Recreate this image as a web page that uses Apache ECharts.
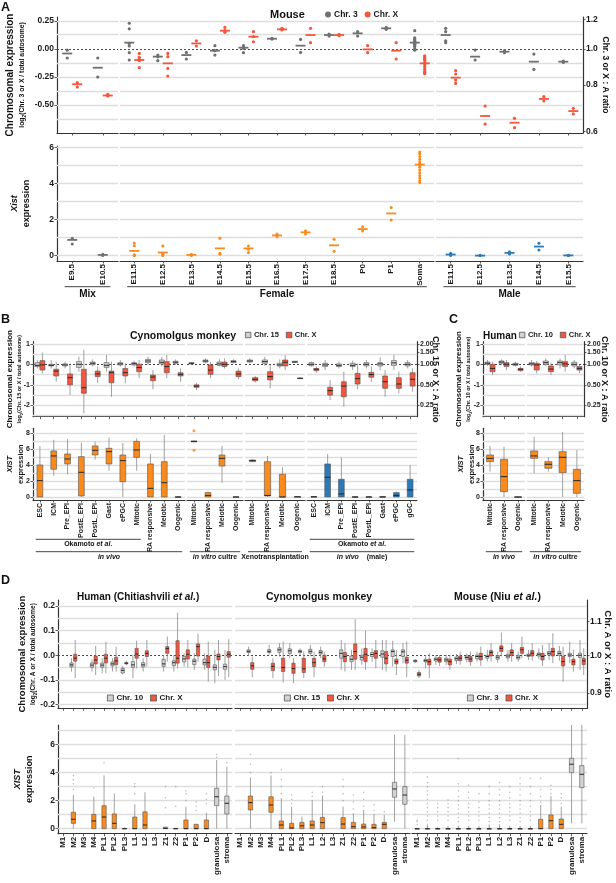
<!DOCTYPE html>
<html>
<head>
<meta charset="utf-8">
<script src="https://cdn.jsdelivr.net/npm/echarts@6.0.0/dist/echarts.min.js"></script>
<style>
  html, body { margin: 0; padding: 0; background: #fff; }
  #chart { width: 616px; height: 883px; }
</style>
</head>
<body>
<div id="chart"></div>
<script>
// ---- A: mouse, log2(Chr / total autosome) dots + Xist dots ----
const aMixCats = ['E9.5', 'E10.5'];
const aFemCats = ['E11.5', 'E12.5', 'E13.5', 'E14.5', 'E15.5', 'E16.5', 'E17.5', 'E18.5', 'P0', 'P1', 'Soma'];
const aMaleCats = ['E11.5', 'E12.5', 'E13.5', 'E14.5', 'E15.5'];

const aMixChr3 = [[-0.01, -0.08], [-0.08, -0.25]];
const aMixChr3Med = [-0.04, -0.167];
const aMixChrX = [[-0.3, -0.34], [-0.405, -0.42]];
const aMixChrXMed = [-0.315, -0.415];

const aFemChr3 = [
  [0.23, 0.18, 0.05, 0.027, -0.033, -0.098], [-0.054, -0.07, -0.104], [-0.03, -0.089],
  [0.03, -0.015, -0.054], [0.03, 0.006, -0.033], [0.095, 0.089], [0.086, -0.03],
  [0.134, 0.116], [0.155, 0.116], [0.193, 0.176],
  [0.164, 0.1, 0.09, 0.08, 0.07, 0.06, 0.05, 0.04, 0.03, 0.02, 0.0, -0.01]
];
const aFemChr3Med = [0.057, -0.068, -0.054, -0.015, 0.012, 0.092, 0.03, 0.125, 0.14, 0.185, 0.057];
const aFemChrX = [
  [-0.039, -0.074, -0.092, -0.104, -0.167], [-0.039, -0.068, -0.173, -0.241], [0.074, 0.027],
  [0.193, 0.164, 0.149], [0.155, 0.11, 0.065], [0.185, 0.176, 0.17], [0.185, 0.057],
  [0.131, 0.119], [0.03, -0.033], [0.057, -0.089],
  [-0.06, -0.07, -0.08, -0.09, -0.1, -0.12, -0.14, -0.16, -0.18, -0.2, -0.21, -0.22]
];
const aFemChrXMed = [-0.098, -0.128, 0.05, 0.164, 0.11, 0.176, 0.125, 0.125, -0.003, -0.015, -0.128];

const aMaleChr3 = [[0.185, 0.155, 0.074, 0.057], [-0.009, -0.098], [-0.015, -0.033], [-0.045, -0.182], [-0.107, -0.12]];
const aMaleChr3Med = [0.125, -0.068, -0.024, -0.113, -0.113];
const aMaleChrX = [[-0.193, -0.223, -0.277, -0.307], [-0.509, -0.67], [-0.619, -0.702], [-0.426, -0.464], [-0.53, -0.58]];
const aMaleChrXMed = [-0.256, -0.598, -0.658, -0.446, -0.554];

const aMixXist = [[0.96, 0.64], [0.07, 0.0]];
const aMixXistMed = [0.87, 0.04];
const aFemXist = [
  [0.7, 0.55, 0.05, 0.0, 0.0], [0.53, 0.13, 0.04, 0.0], [0.07, 0.0], [0.96, 0.13, 0.07],
  [0.53, 0.35, 0.17], [1.2, 1.05], [1.38, 1.2], [0.9, 0.24], [1.6, 1.36], [2.67, 1.97],
  [5.75, 5.65, 5.5, 5.35, 5.2, 5.1, 5.0, 4.9, 4.75, 4.6, 4.45, 4.3, 4.15, 4.05]
];
const aFemXistMed = [0.26, 0.17, 0.04, 0.4, 0.4, 1.12, 1.29, 0.57, 1.47, 2.34, 5.05];
const aMaleXist = [[0.13, 0.0], [0.0, 0.02], [0.22, 0.09], [0.68, 0.31], [0.0, 0.02]];
const aMaleXistMed = [0.06, 0.0, 0.15, 0.5, 0.01];

// ---- B: cynomolgus monkey, boxes [min, q1, median, q3, max] ----
const bVivoCats = ['ESC', 'ICM', 'Pre_EPI', 'PostE_EPI', 'PostL_EPI', 'Gast', 'ePGC', 'Mitotic', 'RA responsive', 'Meiotic', 'Oogenic'];
const bVitroCats = ['Mitotic', 'RA responsive', 'Meiotic', 'Oogenic'];
const bXenoCats = ['Mitotic', 'RA responsive', 'Meiotic', 'Oogenic'];
const bMaleCats = ['ESC', 'ICM', 'Pre_EPI', 'PostE_EPI', 'PostL_EPI', 'Gast', 'ePGC', 'gGC'];

const bVivoChr15 = [
  [-0.2, -0.11, -0.05, 0.08, 0.2], [-0.2, -0.08, -0.05, 0.0, 0.2], [-0.2, -0.08, -0.03, 0.02, 0.13],
  [-0.36, -0.15, 0.0, 0.13, 0.37], [-0.11, -0.02, 0.05, 0.11, 0.24], [-0.36, -0.15, -0.05, 0.08, 0.46],
  [-0.11, -0.03, 0.02, 0.08, 0.21], [-0.11, -0.03, 0.03, 0.08, 0.18], [-0.03, 0.08, 0.16, 0.24, 0.37],
  [-0.11, 0.02, 0.1, 0.21, 0.37], [-0.03, 0.05, 0.1, 0.15, 0.24]
];
const bVivoChrX = [
  [-0.44, -0.28, -0.03, 0.18, 0.57], [-0.85, -0.57, -0.33, -0.24, 0.13], [-1.5, -1.0, -0.65, -0.47, -0.03],
  [-2.39, -1.41, -1.14, -0.24, 0.7], [-0.9, -0.6, -0.47, -0.33, -0.11], [-1.58, -0.9, -0.41, -0.33, 0.13],
  [-0.93, -0.57, -0.41, -0.2, 0.05], [-0.68, -0.36, -0.16, 0.0, 0.21], [-1.22, -0.8, -0.62, -0.52, -0.28],
  [-0.68, -0.41, -0.11, 0.13, 0.46], [-0.85, -0.57, -0.49, -0.41, -0.2]
];
const bVitroChr15 = [[-0.03, 0.02, 0.05, 0.08, 0.11], [0.05, 0.11, 0.16, 0.21, 0.29], [-0.11, -0.05, 0.02, 0.11, 0.24], [0.05, 0.08, 0.13, 0.18, 0.24]];
const bVitroChrX = [[-1.25, -1.12, -1.06, -1.0, -0.9], [-0.68, -0.49, -0.28, -0.03, 0.13], [-0.2, -0.11, 0.0, 0.11, 0.29], [-0.73, -0.6, -0.47, -0.33, -0.2]];
const bXenoChr15 = [[0.05, 0.11, 0.16, 0.21, 0.29], [-0.08, 0.05, 0.13, 0.21, 0.37], [-0.2, -0.08, -0.03, 0.05, 0.24], [0.08, 0.1, 0.11, 0.15, 0.16]];
const bXenoChrX = [[-0.89, -0.8, -0.73, -0.65, -0.57], [-1.17, -0.76, -0.6, -0.36, -0.03], [-0.28, -0.08, 0.1, 0.21, 0.46], [-0.7, -0.69, -0.68, -0.67, -0.66]];
const bMaleChr15 = [
  [-0.11, -0.07, 0.0, 0.08, 0.13], [-0.28, -0.11, -0.03, 0.05, 0.21], [-0.2, -0.11, -0.05, 0.02, 0.13],
  [-0.28, -0.11, -0.05, 0.05, 0.18], [-0.2, -0.08, 0.0, 0.08, 0.21], [-0.28, -0.08, 0.02, 0.08, 0.34],
  [-0.28, -0.05, 0.07, 0.18, 0.46], [-0.2, -0.08, 0.0, 0.08, 0.21]
];
const bMaleChrX = [
  [-0.41, -0.31, -0.24, -0.2, -0.11], [-1.74, -1.5, -1.28, -1.12, -0.76], [-2.07, -1.58, -1.06, -0.85, -0.36],
  [-1.22, -0.96, -0.7, -0.44, 0.05], [-0.85, -0.63, -0.5, -0.39, -0.11], [-1.58, -1.17, -0.85, -0.57, -0.28],
  [-1.41, -1.17, -0.96, -0.65, -0.36], [-1.33, -1.06, -0.73, -0.41, -0.2]
];

const bVivoXist = [
  [0, 0, 2.06, 4.03, 6.43], [2.69, 3.49, 5.17, 5.8, 7.2], [2.86, 4.16, 4.79, 5.42, 7.27],
  [0, 0.13, 3.11, 5.08, 6.85], [4.7, 5.29, 5.88, 6.43, 6.97], [3.32, 4.16, 5.71, 6.13, 7.5],
  [0, 1.93, 4.58, 5.29, 6.8], [3.32, 5.0, 5.92, 7.0, 7.4], [0, 0, 1.09, 4.16, 5.42],
  [0, 0, 1.8, 4.45, 7.8], [0, 0, 0, 0.03, 0.1]
];
const bVitroXist = [[6.9, 6.95, 7.0, 7.05, 7.1], [0, 0, 0.2, 0.55, 0.7], [1.8, 3.9, 4.87, 5.29, 6.43], [0, 0, 0, 0.02, 0.05]];
const bVitroXistOut = [[5.9, 8.35], [], [], []];
const bXenoXist = [[4.4, 4.45, 4.58, 4.66, 4.75], [0, 0.13, 0.2, 4.45, 5.17], [0, 0, 0, 2.86, 3.74], [0, 0, 0.02, 0.05, 0.1]];
const bMaleXist = [
  [0, 0, 0.02, 0.05, 0.1], [0, 0, 2.48, 4.16, 5.42], [0, 0, 0.38, 2.23, 5.0], [0, 0, 0, 0.03, 0.1],
  [0, 0, 0, 0.03, 0.1], [0, 0, 0, 0.05, 0.15], [0, 0, 0.2, 0.55, 0.7], [0, 0, 0.88, 2.23, 4.03]
];

// ---- C: human ----
const cVivoCats = ['Mitotic', 'RA responsive', 'Oogenic'];
const cVitroCats = ['Mitotic', 'RA responsive', 'Meiotic', 'Oogenic'];
const cVivoChr10 = [[-0.08, 0, 0.05, 0.11, 0.21], [-0.03, 0.05, 0.11, 0.16, 0.24], [-0.11, -0.05, 0, 0.05, 0.13]];
const cVivoChrX = [[-0.52, -0.36, -0.2, 0, 0.13], [-0.28, -0.11, 0, 0.08, 0.21], [-0.36, -0.31, -0.24, -0.2, -0.11]];
const cVitroChr10 = [[-0.11, -0.03, 0.02, 0.08, 0.21], [-0.11, 0, 0.08, 0.16, 0.29], [-0.2, -0.03, 0.08, 0.16, 0.29], [-0.2, -0.08, 0, 0.1, 0.21]];
const cVitroChrX = [[-0.44, -0.28, -0.03, 0.05, 0.16], [-0.52, -0.36, -0.23, -0.08, 0.08], [-0.36, -0.11, 0.02, 0.13, 0.46], [-0.44, -0.28, -0.2, -0.11, -0.03]];
const cVivoXist = [[3.19, 4.45, 4.87, 5.29, 6.43], [0, 0.67, 2.56, 4.75, 6.34], [0, 0, 0, 0.02, 0.05]];
const cVitroXist = [[2.98, 4.87, 5.17, 5.8, 7.6], [3.19, 3.61, 4.12, 4.45, 5.0], [0, 3.07, 5.0, 5.71, 8.2], [0, 0.46, 2.06, 3.49, 5.92]];

// ---- D: germ cell stages in three species ----
const dCats = ['M1', 'M2', 'M3', 'M4', 'PL1', 'PL2', 'PL3', 'L1', 'L2', 'L3', 'Z1', 'Z2', 'P1', 'P2', 'D', 'granulosa', 'stroma'];
const dHumanChr10 = [
  null, [-0.066, -0.047, -0.039, -0.031, -0.012], null, [-0.066, -0.049, -0.04, -0.031, -0.016],
  [-0.073, -0.049, -0.04, -0.032, -0.012], [-0.066, -0.043, -0.035, -0.027, -0.012], [-0.077, -0.072, -0.061, -0.053, -0.043],
  [-0.093, -0.049, -0.039, -0.026, 0.001], [-0.066, -0.047, -0.039, -0.03, -0.012], null,
  [-0.066, -0.045, -0.035, -0.016, 0.001], [-0.066, -0.042, -0.03, -0.022, 0.001], [-0.046, -0.027, -0.015, -0.005, 0.008],
  [-0.059, -0.038, -0.024, -0.016, 0.008], [-0.059, -0.039, -0.03, -0.016, 0.008], [-0.113, -0.059, -0.049, -0.039, 0.022],
  [-0.1, -0.057, -0.046, -0.036, 0.022]
];
const dHumanChrX = [
  null, [-0.093, -0.024, -0.012, 0.004, 0.062], null, [-0.08, -0.035, -0.019, -0.003, 0.038],
  [-0.073, -0.031, -0.012, 0.004, 0.055], [-0.066, -0.038, -0.023, -0.008, 0.035], [-0.041, -0.035, -0.032, -0.03, -0.023],
  [-0.053, -0.012, 0.005, 0.028, 0.059], [-0.046, -0.005, 0.007, 0.018, 0.062], null,
  [-0.026, 0.008, 0.027, 0.035, 0.076], [-0.053, -0.032, -0.012, 0.059, 0.173], [-0.049, -0.015, 0.004, 0.022, 0.062],
  [-0.026, -0.003, 0.035, 0.046, 0.087], [-0.107, -0.049, -0.03, -0.003, 0.055], [-0.084, -0.019, -0.005, 0.005, 0.062],
  [-0.089, -0.008, 0.004, 0.015, 0.065]
];
const dMonkeyChr15 = [
  null, [-0.003, 0.011, 0.016, 0.022, 0.035], null, [0.001, 0.011, 0.016, 0.023, 0.042],
  [-0.005, 0.012, 0.022, 0.03, 0.049], [-0.012, 0.008, 0.018, 0.026, 0.049], [0.001, 0.011, 0.016, 0.02, 0.028],
  [-0.005, 0.008, 0.016, 0.024, 0.042], [-0.012, 0.005, 0.012, 0.019, 0.035], null,
  [-0.059, -0.012, 0.008, 0.022, 0.062], [-0.059, -0.026, -0.016, -0.003, 0.022], [-0.039, -0.019, -0.008, 0, 0.028],
  [-0.026, -0.005, 0.003, 0.011, 0.028], [-0.059, -0.008, 0.005, 0.018, 0.062], [-0.046, -0.005, 0.015, 0.022, 0.059],
  [-0.032, -0.005, 0.014, 0.022, 0.049]
];
const dMonkeyChrX = [
  null, [-0.089, -0.057, -0.043, -0.03, -0.005], null, [-0.093, -0.062, -0.045, -0.032, -0.012],
  [-0.111, -0.066, -0.05, -0.012, 0.055], [-0.113, -0.073, -0.054, -0.032, -0.012], [-0.093, -0.07, -0.055, -0.012, 0.015],
  [-0.089, -0.046, -0.03, -0.012, 0.015], [-0.046, -0.026, -0.015, 0, 0.015], null,
  [-0.066, -0.026, -0.005, 0.011, 0.049], [-0.059, -0.016, 0.015, 0.046, 0.146], [-0.059, -0.026, 0.004, 0.028, 0.1],
  [-0.053, -0.012, 0.008, 0.019, 0.062], [-0.066, -0.035, -0.012, 0.015, 0.062], [-0.08, -0.035, -0.026, -0.016, 0.022],
  [-0.089, -0.032, -0.02, -0.008, 0.055]
];
const dMouseChr3 = [
  [-0.03, -0.027, -0.023, -0.02, -0.016], [-0.053, -0.027, -0.022, -0.016, 0.001], [-0.039, -0.023, -0.016, -0.011, 0.001],
  [-0.039, -0.026, -0.019, -0.012, 0.001], [-0.035, -0.022, -0.014, -0.007, 0.005], [-0.03, -0.016, -0.009, -0.003, 0.008],
  [-0.026, -0.014, -0.005, 0, 0.015], [-0.026, -0.012, -0.005, 0, 0.022], [-0.03, -0.016, -0.008, -0.001, 0.015],
  [-0.026, -0.011, -0.003, 0.004, 0.022], [-0.026, -0.015, -0.008, 0, 0.015], [-0.019, -0.005, 0, 0.005, 0.022],
  [-0.016, -0.003, 0.004, 0.009, 0.028], [-0.019, 0.001, 0.008, 0.015, 0.049], [-0.022, 0, 0.008, 0.016, 0.038],
  [-0.032, -0.005, 0.001, 0.008, 0.055], [-0.059, -0.009, 0, 0.008, 0.062]
];
const dMouseChrX = [
  [-0.093, -0.084, -0.077, -0.07, -0.059], [-0.093, -0.039, -0.026, -0.016, 0.008], [-0.043, -0.028, -0.019, -0.009, 0.001],
  [-0.059, -0.039, -0.026, -0.016, 0.001], [-0.039, -0.022, -0.012, -0.003, 0.015], [-0.043, -0.026, -0.015, -0.005, 0.015],
  [-0.043, -0.019, -0.005, 0.008, 0.035], [-0.026, -0.003, 0.011, 0.019, 0.049], [-0.005, 0.015, 0.028, 0.038, 0.092],
  [-0.026, -0.001, 0.011, 0.022, 0.049], [-0.012, 0.008, 0.022, 0.032, 0.076], [-0.022, -0.003, 0.008, 0.019, 0.049],
  [-0.043, -0.019, -0.005, 0.008, 0.042], [-0.032, -0.003, 0.015, 0.028, 0.089], [-0.107, -0.043, -0.026, -0.005, 0.035],
  [-0.066, -0.039, -0.026, -0.016, 0.022], [-0.08, -0.038, -0.023, -0.012, 0.028]
];

const dHumanXist = [
  null, [0, 0.38, 0.67, 1.17, 2.4], null, [0, 0, 0.55, 1.02, 2.28], [0, 0, 0.83, 1.64, 3.8],
  [0, 0, 0.38, 1.05, 2.5], [0, 0, 0, 0.02, 0.04], [0, 0, 0, 0.83, 1.74], [0, 0, 0.26, 1.2, 2.6], null,
  [0, 0, 0.02, 0.1, 0.15], [0, 0, 0, 0.02, 0.04], [0, 0, 0, 0.62, 1.57], [0, 0, 0, 0.31, 0.35],
  [0, 0, 0, 0.62, 1.14], [0, 1.64, 2.28, 2.88, 4.9], [0, 1.05, 1.81, 2.33, 4.43]
];
const dHumanXistOut = [[], [2.8, 3.2, 3.5, 3.8], [], [2.9], [4.7], [], [], [2.5, 3.0, 3.2], [], [], [1.5, 2.2, 3.0], [1.6, 3.0], [2.0, 2.5, 2.7], [1.3, 1.6, 1.9], [1.8, 2.1, 2.5], [5.1, 5.3], [4.7]];
const dMonkeyXist = [
  null, [0, 1.33, 1.86, 2.33, 3.64], null, [0, 1.17, 1.69, 2.28, 3.8], [0, 0, 0.26, 0.55, 2.17],
  [0, 0, 0.05, 0.38, 1.57], [0, 0, 0.2, 0.45, 0.86], [0, 0, 0.26, 0.55, 2.05], [0, 0, 0.43, 0.81, 2.36], null,
  [0, 0, 0.33, 0.79, 1.57], [0, 0, 0.14, 0.45, 1.1], [0, 0, 0.12, 0.33, 1.33], [0, 0, 0.07, 0.31, 1.05],
  [0, 0, 0.31, 0.45, 0.98], [0.5, 2.24, 2.83, 3.31, 6.7], [0, 1.74, 2.4, 3.0, 6.7]
];
const dMonkeyXistOut = [[], [4.0, 4.6, 5.3], [], [4.0], [2.5, 3.0, 3.5, 4.2], [1.8, 2.1, 2.4], [], [2.3, 2.6], [2.6, 3.0], [], [2.0, 2.5, 3.0, 3.5], [1.4, 1.9, 2.4], [1.6, 2.1, 2.6], [1.3, 1.7], [1.2], [], []];
const dMouseXist = [
  [0, 0, 0, 0, 0.02], [0, 0, 0, 0, 0.3], [0, 0, 0, 0, 0.1], [0, 0, 0, 0, 0.2], [0, 0, 0, 0, 0.2],
  [0, 0, 0, 0, 0.2], [0, 0, 0, 0, 0.2], [0, 0, 0, 0, 0.3], [0, 0, 0, 0, 0.3], [0, 0, 0, 0, 0.2],
  [0, 0, 0, 0, 0.2], [0, 0, 0, 0, 0.2], [0, 0, 0, 0.67, 1.69], [0, 0, 0.57, 0.98, 2.33],
  [0, 0, 0.31, 0.69, 1.57], [0.38, 4.0, 4.6, 5.02, 7.4], [0.38, 2.93, 3.88, 4.5, 7.4]
];
const dMouseXistOut = [
  [0.3, 0.5, 0.6], [0.6, 0.9, 1.2, 1.5, 1.8, 2.1, 2.4, 2.7, 3.0, 3.3, 3.7], [0.6, 0.9, 1.2, 1.5, 1.8],
  [0.6, 0.9, 1.2, 1.5, 1.8, 2.05], [0.5, 0.8, 1.1, 1.4, 1.7, 2.0, 2.3, 2.7, 3.2, 5.0], [0.6, 0.9, 1.2, 1.5, 1.8, 2.2, 2.6, 3.1],
  [0.6, 0.9, 1.2, 1.5, 1.9, 2.5], [0.5, 0.8, 1.1, 1.4, 1.7, 2.0, 2.5, 3.0], [0.5, 0.8, 1.1, 1.4, 1.7, 2.0, 2.4, 2.8, 3.3],
  [0.6, 0.9, 1.2, 1.5, 1.8, 2.2, 2.6, 3.0], [0.5, 0.8, 1.1, 1.4, 1.7, 2.0, 2.4, 2.8, 3.2, 3.6], [0.6, 0.9, 1.2, 1.6, 2.0, 2.5, 3.0, 3.6],
  [1.9, 2.3, 2.8, 3.6], [2.5, 2.8, 3.1], [1.8, 2.2, 2.5], [], []
];

// ---------------------------------------------------------------
const FONT = '"Liberation Sans", Arial, Helvetica, sans-serif';
const INK = '#1a1a1a';
const GRAY_PT = '#707070';
const RED = '#f5553c';
const ORANGE = '#fa8a1c';
const BLUE = '#2a7ab8';
const BOX_GRAY = '#d2d2d2';
const EDGE = '#555';
const WHISK = '#8a8a8a';
const OUT = 'rgba(110,110,110,0.55)';

const chart = echarts.init(document.getElementById('chart'), null, { renderer: 'canvas' });
const grids = [], xAxes = [], yAxes = [], series = [];

function richSet(t, s) {
  const base = { fontFamily: FONT, fontWeight: 'bold', color: '#111' };
  return {
    t: { ...base, fontSize: t, lineHeight: t + 3 },
    i: { ...base, fontSize: t, fontStyle: 'italic', lineHeight: t + 3 },
    s: { ...base, fontSize: s, lineHeight: s + 3 },
    sub: { ...base, fontSize: s * 0.72, lineHeight: s + 3, verticalAlign: 'bottom' }
  };
}

// one ggplot facet = one grid with its own category x axis
function facet(f) {
  const gi = grids.length;
  grids.push({ left: f.x0, top: f.y0, width: f.x1 - f.x0, height: f.y1 - f.y0 });
  xAxes.push({
    type: 'category', gridIndex: gi, data: f.cats, boundaryGap: true,
    axisLine: { show: true, onZero: false, lineStyle: { color: '#333', width: 1.2 } },
    axisTick: { show: true, alignWithLabel: true, length: 2.5, lineStyle: { color: '#333', width: 0.8 } },
    axisLabel: { show: !!f.xFont, interval: 0, rotate: 90, margin: 3, fontSize: f.xFont || 8, fontWeight: 'bold', color: INK },
    splitLine: { show: false }
  });
  const yi = yAxes.length;
  const L = f.left;
  yAxes.push(L ? {
    type: 'value', gridIndex: gi, position: 'left', min: f.yMin, max: f.yMax,
    axisLine: { show: true, lineStyle: { color: '#333', width: 1.2 } },
    axisTick: { show: true, length: 2.5, customValues: L.ticks, lineStyle: { color: '#333', width: 0.8 } },
    axisLabel: { show: true, customValues: L.ticks, formatter: L.fmt, fontSize: L.size, fontWeight: 'bold', color: INK, margin: 3 },
    splitLine: { show: false },
    name: L.name, nameLocation: 'middle', nameRotate: 90, nameGap: L.gap, nameMoveOverlap: false,
    nameTextStyle: { rich: L.rich }
  } : { type: 'value', gridIndex: gi, min: f.yMin, max: f.yMax, show: false, splitLine: { show: false } });

  if (f.right) {
    const R = f.right;
    const vals = R.ticks.map(Math.log2);
    yAxes.push({
      type: 'value', gridIndex: gi, position: 'right', min: f.yMin, max: f.yMax,
      axisLine: { show: true, lineStyle: { color: '#333', width: 1.2 } },
      axisTick: { show: true, length: 2.5, customValues: vals, lineStyle: { color: '#333', width: 0.8 } },
      axisLabel: { show: true, customValues: vals, formatter: v => Math.pow(2, v).toFixed(R.dp), fontSize: R.size, fontWeight: 'bold', color: INK, margin: 3 },
      splitLine: { show: false },
      name: R.name, nameLocation: 'middle', nameRotate: -90, nameGap: R.gap, nameMoveOverlap: false,
      nameTextStyle: { fontSize: R.nameSize, fontWeight: 'bold', color: '#111', lineHeight: R.nameSize + 2 }
    });
  }

  // panel grid lines + dotted zero line drawn through the y scale
  const lines = f.grid.map(v => ({ yAxis: v }));
  if (f.zero) lines.push({ yAxis: 0, lineStyle: { color: '#4a4a4a', width: 1, type: [2, 2] } });
  series.push({
    type: 'line', xAxisIndex: gi, yAxisIndex: yi, data: [], silent: true,
    markLine: {
      silent: true, symbol: 'none', animation: false, z: 1, label: { show: false },
      emphasis: { disabled: true },
      lineStyle: { color: '#dedede', width: 1.3, type: 'solid' },
      data: lines
    }
  });
  return { gi, yi };
}

function dots(name, h, pts, med, off, color, size) {
  const d = [];
  pts.forEach((arr, i) => arr.forEach(v => d.push([i, v])));
  series.push({
    type: 'scatter', name, xAxisIndex: h.gi, yAxisIndex: h.yi, data: d, symbolSize: size || 3.2,
    symbolOffset: [off, 0], itemStyle: { color, opacity: 1 }, z: 3, silent: true, animation: false
  });
  series.push({
    type: 'scatter', name, xAxisIndex: h.gi, yAxisIndex: h.yi, data: med.map((v, i) => [i, v]),
    symbol: 'rect', symbolSize: [10, 1.8], symbolOffset: [off, 0], itemStyle: { color, opacity: 1 },
    z: 4, silent: true, animation: false
  });
}

function boxes(name, h, data, off, wFrac, fill) {
  const rows = [];
  data.forEach((d, i) => { if (d) rows.push([i].concat(d)); });
  series.push({
    type: 'custom', name, xAxisIndex: h.gi, yAxisIndex: h.yi, z: 3, silent: true, animation: false,
    encode: { x: 0, y: [1, 2, 3, 4, 5] }, data: rows,
    renderItem: (params, api) => {
      const c = api.value(0);
      const band = api.size([1, 0])[0];
      const x = api.coord([c, 0])[0] + band * off;
      const w = band * wFrac;
      const y = k => api.coord([c, api.value(k)])[1];
      const lo = y(1), q1 = y(2), md = y(3), q3 = y(4), hi = y(5);
      const col = typeof fill === 'function' ? fill(c) : fill;
      return {
        type: 'group', children: [
          { type: 'line', shape: { x1: x, y1: hi, x2: x, y2: lo }, style: { stroke: WHISK, lineWidth: 0.8 } },
          { type: 'rect', shape: { x: x - w / 2, y: q3, width: w, height: Math.max(q1 - q3, 0.6) }, style: { fill: col, stroke: EDGE, lineWidth: 0.6 } },
          { type: 'line', shape: { x1: x - w / 2, y1: md, x2: x + w / 2, y2: md }, style: { stroke: '#262626', lineWidth: 1 } }
        ]
      };
    }
  });
}

function outliers(h, outs, color, size) {
  const d = [];
  outs.forEach((arr, i) => arr.forEach(v => d.push([i, v])));
  series.push({
    type: 'scatter', xAxisIndex: h.gi, yAxisIndex: h.yi, data: d, symbolSize: size || 1.6,
    itemStyle: { color }, z: 2, silent: true, animation: false
  });
}

// ---- rows ----
const rowA1 = { y0: 17, y1: 133, yMin: -0.75, yMax: 0.286, grid: [0.25, 0.125, -0.125, -0.25, -0.375, -0.5, -0.625], zero: true };
const rowA2 = { y0: 146, y1: 261, yMin: -0.3, yMax: 6.08, grid: [0, 1, 2, 3, 4, 5, 6], xFont: 8 };
const rowB1 = { y0: 341.7, y1: 416.7, yMin: -2.55, yMax: 1.1, grid: [1, 0.5, -0.5, -1, -1.5, -2, -2.5], zero: true };
const rowB2 = { y0: 428.3, y1: 500, yMin: -0.38, yMax: 8.65, grid: [0, 1, 2, 3, 4, 5, 6, 7, 8], xFont: 7 };
const rowD1 = { y0: 600, y1: 708.3, yMin: -0.215, yMax: 0.224, grid: [0.2, 0.15, 0.1, 0.05, -0.05, -0.1, -0.15, -0.2], zero: true };
const rowD2 = { y0: 725, y1: 833.7, yMin: -0.36, yMax: 7.4, grid: [0, 1, 2, 3, 4, 5, 6, 7], xFont: 8 };

const logName = chr => '{t|Chromosomal expression}\n{s|log}{sub|2}{s|(Chr. ' + chr + ' or X / total autosome)}';
const fmtInt = v => String(Math.round(v));

const leftA1 = { ticks: [0.25, 0, -0.25, -0.5], fmt: v => v.toFixed(2), size: 8.5, gap: 30, name: logName('3'), rich: richSet(10, 6.8) };
const leftA2 = { ticks: [0, 2, 4, 6], fmt: fmtInt, size: 8.5, gap: 24, name: '{i|Xist}\n{t|expression}', rich: richSet(9, 6) };
const rightA1 = { ticks: [1.2, 1.0, 0.8, 0.6], dp: 1, size: 8.5, gap: 17, name: 'Chr. 3 or X : A ratio', nameSize: 8.5 };
const leftB1 = { ticks: [1, 0, -1, -2], fmt: fmtInt, size: 7, gap: 9, name: logName('15'), rich: richSet(8, 5.5) };
const leftB2 = { ticks: [0, 2, 4, 6, 8], fmt: fmtInt, size: 7, gap: 7, name: '{i|XIST}\n{t|expression}', rich: richSet(7.5, 6) };
const rightB1 = { ticks: [2, 1.5, 1, 0.5, 0.25], dp: 2, size: 7, gap: 13, name: 'Chr. 15 or X : A ratio', nameSize: 9 };
const leftC1 = { ticks: [1, 0, -1, -2], fmt: fmtInt, size: 7, gap: 10, name: logName('10'), rich: richSet(7.8, 5.3) };
const leftC2 = { ticks: [0, 2, 4, 6, 8], fmt: fmtInt, size: 7, gap: 6, name: '{i|XIST}\n{t|expression}', rich: richSet(7.5, 6) };
const rightC1 = { ticks: [2, 1.5, 1, 0.5, 0.25], dp: 2, size: 7, gap: 15, name: 'Chr. 10 or X : A ratio', nameSize: 9 };
const leftD1 = { ticks: [0.2, 0.1, 0, -0.1, -0.2], fmt: v => v.toFixed(1), size: 8.5, gap: 20, name: logName('A'), rich: richSet(9.5, 6.5) };
const leftD2 = { ticks: [0, 2, 4, 6], fmt: fmtInt, size: 8.5, gap: 22, name: '{i|XIST}\n{t|expression}', rich: richSet(9, 6) };
const rightD1 = { ticks: [1.1, 1.0, 0.9], dp: 1, size: 8.5, gap: 15, name: 'Chr. A or X : A ratio', nameSize: 9.5 };

// A
const aMix1 = facet({ ...rowA1, x0: 57, x1: 118, cats: aMixCats, left: leftA1 });
const aFem1 = facet({ ...rowA1, x0: 120, x1: 434, cats: aFemCats });
const aMale1 = facet({ ...rowA1, x0: 436, x1: 583, cats: aMaleCats, right: rightA1 });
const aMix2 = facet({ ...rowA2, x0: 57, x1: 118, cats: aMixCats, left: leftA2 });
const aFem2 = facet({ ...rowA2, x0: 120, x1: 434, cats: aFemCats });
const aMale2 = facet({ ...rowA2, x0: 436, x1: 583, cats: aMaleCats });

dots('Chr. 3|A', aMix1, aMixChr3, aMixChr3Med, -5, GRAY_PT);
dots('Chr. X|A', aMix1, aMixChrX, aMixChrXMed, 5, RED);
dots('Chr. 3|A', aFem1, aFemChr3, aFemChr3Med, -5, GRAY_PT);
dots('Chr. X|A', aFem1, aFemChrX, aFemChrXMed, 5, RED);
dots('Chr. 3|A', aMale1, aMaleChr3, aMaleChr3Med, -5, GRAY_PT);
dots('Chr. X|A', aMale1, aMaleChrX, aMaleChrXMed, 5, RED);
dots('xA', aMix2, aMixXist, aMixXistMed, 0, GRAY_PT, 3);
dots('xA', aFem2, aFemXist, aFemXistMed, 0, ORANGE, 3);
dots('xA', aMale2, aMaleXist, aMaleXistMed, 0, BLUE, 3);

// B
const bVivo1 = facet({ ...rowB1, x0: 33, x1: 185, cats: bVivoCats, left: leftB1 });
const bVitro1 = facet({ ...rowB1, x0: 187, x1: 243, cats: bVitroCats });
const bXeno1 = facet({ ...rowB1, x0: 245, x1: 305, cats: bXenoCats });
const bMale1 = facet({ ...rowB1, x0: 307, x1: 417, cats: bMaleCats, right: rightB1 });
const bVivo2 = facet({ ...rowB2, x0: 33, x1: 185, cats: bVivoCats, left: leftB2 });
const bVitro2 = facet({ ...rowB2, x0: 187, x1: 243, cats: bVitroCats });
const bXeno2 = facet({ ...rowB2, x0: 245, x1: 305, cats: bXenoCats });
const bMale2 = facet({ ...rowB2, x0: 307, x1: 417, cats: bMaleCats });

[[bVivo1, bVivoChr15, bVivoChrX], [bVitro1, bVitroChr15, bVitroChrX], [bXeno1, bXenoChr15, bXenoChrX], [bMale1, bMaleChr15, bMaleChrX]]
  .forEach(([h, g, x]) => { boxes('Chr. 15|B', h, g, -0.18, 0.36, BOX_GRAY); boxes('Chr. X|B', h, x, 0.18, 0.36, RED); });
boxes('xB', bVivo2, bVivoXist, 0, 0.42, ORANGE);
boxes('xB', bVitro2, bVitroXist, 0, 0.42, ORANGE);
outliers(bVitro2, bVitroXistOut, ORANGE, 3);
boxes('xB', bXeno2, bXenoXist, 0, 0.42, ORANGE);
boxes('xB', bMale2, bMaleXist, 0, 0.42, BLUE);

// C
const cVivo1 = facet({ ...rowB1, x0: 483, x1: 525, cats: cVivoCats, left: leftC1 });
const cVitro1 = facet({ ...rowB1, x0: 527, x1: 584, cats: cVitroCats, right: rightC1 });
const cVivo2 = facet({ ...rowB2, x0: 483, x1: 525, cats: cVivoCats, left: leftC2 });
const cVitro2 = facet({ ...rowB2, x0: 527, x1: 584, cats: cVitroCats });
boxes('Chr. 10|C', cVivo1, cVivoChr10, -0.18, 0.36, BOX_GRAY);
boxes('Chr. X|C', cVivo1, cVivoChrX, 0.18, 0.36, RED);
boxes('Chr. 10|C', cVitro1, cVitroChr10, -0.18, 0.36, BOX_GRAY);
boxes('Chr. X|C', cVitro1, cVitroChrX, 0.18, 0.36, RED);
boxes('xC', cVivo2, cVivoXist, 0, 0.5, ORANGE);
boxes('xC', cVitro2, cVitroXist, 0, 0.5, ORANGE);

// D
const dHum1 = facet({ ...rowD1, x0: 58, x1: 232, cats: dCats, left: leftD1 });
const dMon1 = facet({ ...rowD1, x0: 235, x1: 410, cats: dCats });
const dMou1 = facet({ ...rowD1, x0: 412, x1: 587, cats: dCats, right: rightD1 });
const dHum2 = facet({ ...rowD2, x0: 58, x1: 232, cats: dCats, left: leftD2 });
const dMon2 = facet({ ...rowD2, x0: 235, x1: 410, cats: dCats });
const dMou2 = facet({ ...rowD2, x0: 412, x1: 587, cats: dCats });

boxes('Chr. 10|DH', dHum1, dHumanChr10, -0.18, 0.32, BOX_GRAY);
boxes('Chr. X|DH', dHum1, dHumanChrX, 0.18, 0.32, RED);
boxes('Chr. 15|DM', dMon1, dMonkeyChr15, -0.18, 0.32, BOX_GRAY);
boxes('Chr. X|DM', dMon1, dMonkeyChrX, 0.18, 0.32, RED);
boxes('Chr. 3|DU', dMou1, dMouseChr3, -0.18, 0.32, BOX_GRAY);
boxes('Chr. X|DU', dMou1, dMouseChrX, 0.18, 0.32, RED);
const somaFill = i => (i >= 15 ? BOX_GRAY : ORANGE);
outliers(dHum2, dHumanXistOut, OUT);
outliers(dMon2, dMonkeyXistOut, OUT);
outliers(dMou2, dMouseXistOut, OUT);
boxes('xD', dHum2, dHumanXist, 0, 0.42, somaFill);
boxes('xD', dMon2, dMonkeyXist, 0, 0.42, somaFill);
boxes('xD', dMou2, dMouseXist, 0, 0.42, somaFill);

// ---- titles & legends ----
const tStyle = (size, extra) => ({ fontSize: size, fontWeight: 'bold', color: '#111', fontFamily: FONT, ...(extra || {}) });
const etAl = size => ({ n: tStyle(size), i: tStyle(size, { fontStyle: 'italic' }) });
const titles = [
  { text: 'A', left: 1, top: 1, padding: 0, textStyle: tStyle(12.5) },
  { text: 'Mouse', left: 270, top: 9, padding: 0, textStyle: tStyle(11) },
  { text: 'B', left: 1, top: 313, padding: 0, textStyle: tStyle(12.5) },
  { text: 'Cynomolgus monkey', left: 130, top: 331, padding: 0, textStyle: tStyle(10.5) },
  { text: 'C', left: 449, top: 313, padding: 0, textStyle: tStyle(12.5) },
  { text: 'Human', left: 483, top: 331, padding: 0, textStyle: tStyle(10) },
  { text: 'D', left: 1, top: 574, padding: 0, textStyle: tStyle(12.5) },
  { text: '{n|Human (Chitiashvili }{i|et al.}{n|)}', left: 77, top: 592, padding: 0, textStyle: { rich: etAl(10) } },
  { text: 'Cynomolgus monkey', left: 266, top: 592, padding: 0, textStyle: tStyle(10.5) },
  { text: '{n|Mouse (Niu }{i|et al.}{n|)}', left: 454, top: 592, padding: 0, textStyle: { rich: etAl(10.5) } }
];

const boxKey = (name, color) => ({ name, icon: 'rect', itemStyle: { color, borderColor: EDGE, borderWidth: 0.8 } });
const legBase = (left, top, size, data, icon, iw) => ({
  left, top, padding: 0, itemGap: 7, itemWidth: iw, itemHeight: iw, selectedMode: false, icon,
  textStyle: { fontSize: size, fontWeight: 'bold', color: INK, fontFamily: FONT, padding: [0, 0, 0, -2] },
  formatter: n => n.split('|')[0], data
});
const legends = [
  legBase(325, 10, 8.5, [{ name: 'Chr. 3|A', itemStyle: { color: GRAY_PT } }, { name: 'Chr. X|A', itemStyle: { color: RED } }], 'circle', 6),
  legBase(245, 331, 7.5, [boxKey('Chr. 15|B', BOX_GRAY), boxKey('Chr. X|B', RED)], 'rect', 5.5),
  legBase(519, 331, 7.5, [boxKey('Chr. 10|C', BOX_GRAY), boxKey('Chr. X|C', RED)], 'rect', 5.5),
  legBase(107, 694, 8, [boxKey('Chr. 10|DH', BOX_GRAY), boxKey('Chr. X|DH', RED)], 'rect', 6),
  legBase(284, 694, 8, [boxKey('Chr. 15|DM', BOX_GRAY), boxKey('Chr. X|DM', RED)], 'rect', 6),
  legBase(467, 694, 8, [boxKey('Chr. 3|DU', BOX_GRAY), boxKey('Chr. X|DU', RED)], 'rect', 6)
];

chart.setOption({
  animation: false,
  backgroundColor: '#fff',
  textStyle: { fontFamily: FONT },
  title: titles,
  legend: legends,
  grid: grids,
  xAxis: xAxes,
  yAxis: yAxes,
  series
});

// ---- group brackets under the x axes, placed from the category scale ----
const brRich = {
  g: { fontSize: 10, fontWeight: 'bold', fill: '#111', fontFamily: FONT },
  n: { fontSize: 7, fontWeight: 'bold', fill: '#111', fontFamily: FONT },
  i: { fontSize: 7, fontWeight: 'bold', fontStyle: 'italic', fill: '#111', fontFamily: FONT }
};
const brackets = [
  { h: aMix2, a: 0, b: 1, ly: 286.7, ty: 294.5, text: '{g|Mix}', pad: 0.25 },
  { h: aFem2, a: 0, b: 10, ly: 286.7, ty: 294.5, text: '{g|Female}', pad: 0.25 },
  { h: aMale2, a: 0, b: 4, ly: 286.7, ty: 294.5, text: '{g|Male}', pad: 0.25 },
  { h: bVivo2, a: 0, b: 7, ly: 539.3, ty: 544.5, text: '{n|Okamoto }{i|et al.}', pad: 0.3 },
  { h: bVivo2, a: 0, b: 10, ly: 551.7, ty: 557.5, text: '{i|in vivo}', pad: 0.3 },
  { h: bVitro2, a: 0, b: 3, ly: 551.7, ty: 557.5, text: '{i|in vitro}{n| cultre}', pad: 0.3 },
  { h: bXeno2, a: 0, b: 3, ly: 551.7, ty: 557.5, text: '{n|Xenotransplantation}', pad: 0.3 },
  { h: bMale2, a: 0, b: 7, ly: 539.3, ty: 544.5, text: '{n|Okamoto }{i|et al.}', pad: 0.3 },
  { h: bMale2, a: 0, b: 7, ly: 551.7, ty: 557.5, text: '{i|in vivo}{n|    (male)}', pad: 0.3 },
  { h: cVivo2, a: 0, b: 2, ly: 551.7, ty: 557.5, text: '{i|in vivo}', pad: 0.3 },
  { h: cVitro2, a: 0, b: 3, ly: 551.7, ty: 557.5, text: '{i|in vitro}{n| cultre}', pad: 0.3 }
];
const gfx = [];
brackets.forEach(b => {
  const px = i => chart.convertToPixel({ xAxisIndex: b.h.gi }, i);
  const band = px(1) - px(0);
  const x0 = px(b.a) - band * b.pad, x1 = px(b.b) + band * b.pad;
  gfx.push({ type: 'line', silent: true, shape: { x1: x0, y1: b.ly, x2: x1, y2: b.ly }, style: { stroke: '#444', lineWidth: 1 } });
  gfx.push({ type: 'text', silent: true, x: (px(b.a) + px(b.b)) / 2, y: b.ty, style: { text: b.text, rich: brRich, align: 'center', verticalAlign: 'middle' } });
});
chart.setOption({ graphic: gfx });
</script>
</body>
</html>
